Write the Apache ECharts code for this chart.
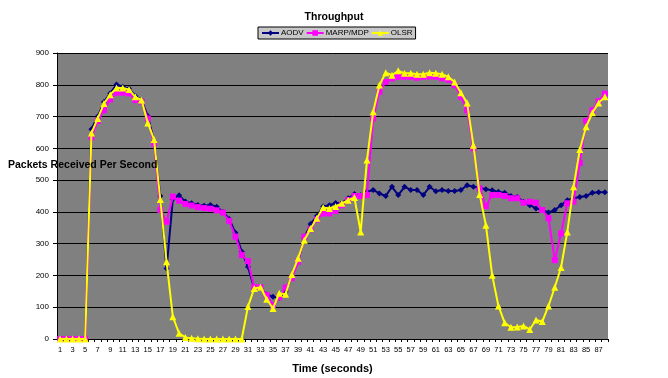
<!DOCTYPE html>
<html>
<head>
<meta charset="utf-8">
<script src="https://cdn.jsdelivr.net/npm/echarts@6/dist/echarts.min.js"></script>
<style>
html,body{margin:0;padding:0;background:#fff;}
#chart{width:668px;height:378px;}
</style>
</head>
<body>
<div id="chart"></div>
<script>
var categories = [];
for (var i = 1; i <= 88; i++) categories.push(String(i));

var aodv = [0,0,0,0,0,660,700,746,773,801,794,788,765,752,702,623,450,222,440,452,
  433,427,422,419,422,416,400,378,334,275,227,160,160,140,133,130,150,195,245,318,
  362,387,417,421,428,428,443,456,452,463,469,458,450,479,453,479,469,469,453,479,
  465,469,466,466,469,484,479,476,471,468,463,460,450,447,432,421,411,406,398,406,
  421,437,443,447,450,460,462,462];

var marp = [0,0,0,0,0,635,686,720,754,775,775,773,752,747,694,615,406,369,448,435,
  425,420,415,412,410,405,398,372,322,264,245,163,163,138,107,131,162,191,243,322,
  345,376,395,395,403,421,437,450,450,453,694,778,809,820,825,825,825,822,825,826,
  825,820,816,799,762,720,600,474,418,453,453,450,443,443,429,432,429,406,380,248,
  332,427,432,554,686,720,749,772];

var olsr = [0,0,0,0,0,648,694,741,769,790,790,785,762,752,680,628,439,243,70,18,
  5,2,1,0,0,0,0,0,0,0,102,159,163,125,96,144,141,203,254,311,
  348,380,414,411,417,427,437,445,337,563,715,799,838,830,844,836,836,833,833,838,
  836,833,825,809,775,743,610,455,358,201,104,51,37,38,41,30,60,55,104,163,
  225,337,479,596,668,712,743,762];

var seriesNames = ['AODV', 'MARP/MDP', 'OLSR'];
var yTicks = [0, 100, 200, 300, 400, 500, 600, 700, 800, 900];

var FONT = 'Liberation Sans, Arial, sans-serif';
var chart = echarts.init(document.getElementById('chart'), null, {renderer: 'canvas'});

chart.setOption({
  animation: false,
  backgroundColor: '#ffffff',
  title: [
    {text: 'Throughput', left: 'center', top: 7,
     textStyle: {fontFamily: FONT, fontSize: 10.5, fontWeight: 'bold', color: '#000'}},
    {text: 'Packets Received Per Second', left: 3, top: 155, z: 20,
     textStyle: {fontFamily: FONT, fontSize: 10.5, fontWeight: 'bold', color: '#000'}}
  ],
  legend: {
    data: seriesNames,
    left: 258, top: 27,
    backgroundColor: '#c8c8c8',
    borderColor: '#000', borderWidth: 1,
    padding: [2, 3, 2, 3],
    itemGap: 2,
    itemWidth: 17, itemHeight: 7,
    textStyle: {fontFamily: FONT, fontSize: 8, color: '#000', padding: [0, 0, 0, -3]}
  },
  grid: {left: 57, right: 60, top: 53, bottom: 39, show: true,
    outerBoundsMode: 'none', containLabel: false,
    backgroundColor: '#808080', borderWidth: 0},
  xAxis: {
    type: 'category',
    data: categories,
    boundaryGap: true,
    name: 'Time (seconds)',
    nameLocation: 'middle',
    nameGap: 24,
    nameTextStyle: {fontFamily: FONT, fontSize: 11, fontWeight: 'bold', color: '#000'},
    axisLine: {lineStyle: {color: '#000', width: 1}},
    axisTick: {show: true, interval: 0, length: 3, lineStyle: {color: '#000'}},
    axisLabel: {interval: 1, fontFamily: FONT, fontSize: 7.5, color: '#000', margin: 7},
    splitLine: {show: false}
  },
  yAxis: {
    type: 'value',
    min: 0, max: 900, interval: 100,
    axisLine: {show: true, lineStyle: {color: '#000', width: 1}},
    axisTick: {show: true, length: 4, lineStyle: {color: '#000'}},
    axisLabel: {fontFamily: FONT, fontSize: 8, color: '#000', margin: 8,
      formatter: function (v) { return yTicks.indexOf(v) >= 0 ? String(v) : ''; }},
    splitLine: {show: true, lineStyle: {color: '#000', width: 1}}
  },
  series: [
    {name: 'AODV', type: 'line', data: aodv, symbol: 'diamond', symbolSize: 6, showAllSymbol: true,
     lineStyle: {color: '#000080', width: 2}, itemStyle: {color: '#000080'}, z: 2},
    {name: 'MARP/MDP', type: 'line', data: marp, symbol: 'rect', symbolSize: 6, showAllSymbol: true,
     lineStyle: {color: '#ff00ff', width: 2}, itemStyle: {color: '#ff00ff'}, z: 3},
    {name: 'OLSR', type: 'line', data: olsr, symbol: 'triangle', symbolSize: 7, showAllSymbol: true,
     lineStyle: {color: '#ffff00', width: 2}, itemStyle: {color: '#ffff00'}, z: 4}
  ]
});
</script>
</body>
</html>
